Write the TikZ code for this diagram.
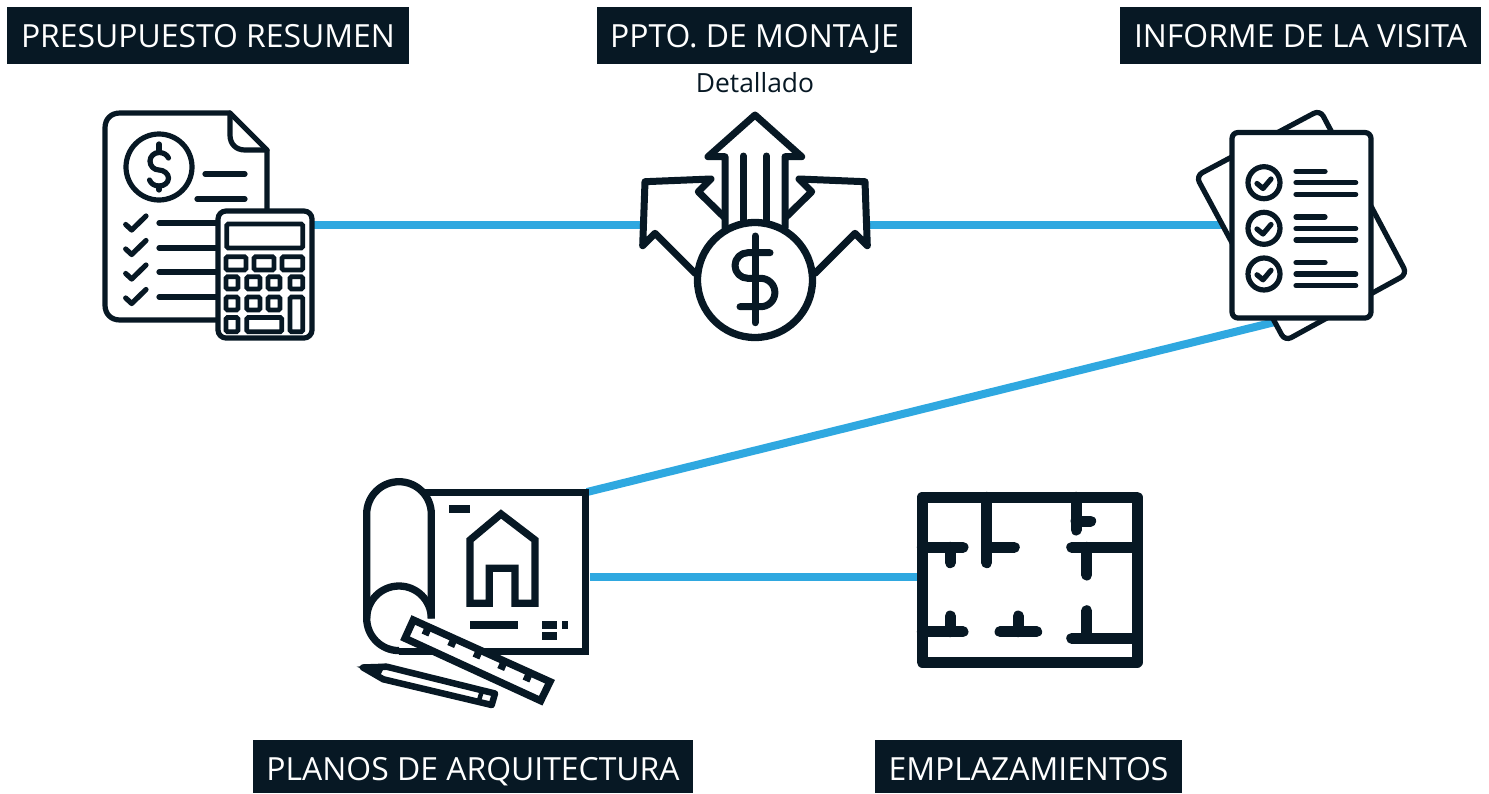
\documentclass[tikz,border=0pt]{standalone}
\usepackage{fontspec}
\setmainfont{Open Sans}
\definecolor{ink}{HTML}{071824}
\definecolor{wire}{HTML}{2FA8E0}
\tikzset{
  x=1pt,y=-1pt,
  tag/.style={fill=ink,text=white,inner sep=0pt,font=\fontsize{31.9}{38}\selectfont,text height=24pt,text depth=1pt},
  low tag/.style={tag,text height=28.5pt,text depth=0pt},
  iconbox/.style={inner sep=0pt,outer sep=0pt,draw=none},
  wireline/.style={draw=wire,line width=7.5pt},
  thin ink/.style={draw=ink,line width=5.2pt,line cap=round,line join=round},
  mid ink/.style={draw=ink,line width=7pt,line cap=round,line join=round},
  sharp ink/.style={draw=ink,line width=7.3pt,line cap=butt,line join=miter},
  wall/.style={draw=ink,line width=11pt,line cap=round},
}
\begin{document}
\begin{tikzpicture}
\useasboundingbox (0,0) rectangle (1489,793);
\fill[white] (0,0) rectangle (1489,793);
% labels
\node[tag,minimum width=402pt,minimum height=57pt] (t1) at (208,35.5) {PRESUPUESTO RESUMEN};
\node[tag,minimum width=315pt,minimum height=57pt] (t2) at (754.5,35.5) {PPTO. DE MONTAJE};
\node[tag,minimum width=361pt,minimum height=57pt] (t3) at (1300.5,35.5) {INFORME DE LA VISITA};
\node[low tag,minimum width=440pt,minimum height=53pt] (t4) at (473,766.5) {PLANOS DE ARQUITECTURA};
\node[low tag,minimum width=307pt,minimum height=53pt] (t5) at (1028.5,766.5) {EMPLAZAMIENTOS};
\node[inner sep=0pt,text=ink,font=\fontsize{26.4}{30}\selectfont] (sub) at (755,83) {Detallado};
% icon frames (invisible), connectors end on them
\node[iconbox,minimum width=210pt,minimum height=230pt] (calc) at (208,225) {};
\node[iconbox,minimum width=230pt,minimum height=230pt] (ppto) at (755,225) {};
\node[iconbox,minimum width=180pt,minimum height=230pt] (inf) at (1315,225) {};
\node[iconbox,minimum width=227pt,minimum height=194pt] (plan) at (476.5,577) {};
\node[iconbox,minimum width=220pt,minimum height=170pt] (emp) at (1028,577) {};
\coordinate (infS) at (1275,322);
\coordinate (planN) at (587,492);
% connectors
\draw[wireline] (calc.east) -- (ppto.west);
\draw[wireline] (ppto.east) -- (inf.west);
\draw[wireline,line width=8pt] (infS) -- (planN);
\draw[wireline] (plan.east) -- (emp.west);
% ---- icon 1: budget document + calculator
\begin{scope}[thin ink]
\draw[fill=white] (230,113) -- (267,150) -- (267,215) -- (267,320) -- (120,320)
  .. controls (111,320) and (105,314) .. (105,305) -- (105,128)
  .. controls (105,119) and (111,113) .. (120,113) -- cycle;
\draw (230,113) -- (230,135) .. controls (230,144) and (236,150) .. (245,150) -- (267,150);
\draw (159,167) circle (33);
\draw (205,174) -- (245,174);
\draw (197,199) -- (245,199);
\draw (159,223) -- (220,223);
\draw (159,248) -- (220,248);
\draw (159,272) -- (220,272);
\draw (159,297) -- (220,297);
\draw (125.7,224.5) -- (131.7,230) -- (146,216);
\draw (125.7,249) -- (131.7,254.5) -- (146,240.5);
\draw (125.7,273.5) -- (131.7,279) -- (146,265);
\draw (125.7,298) -- (131.7,303.5) -- (146,289.5);
\draw (159,144) -- (159,152);
\draw (159,186) -- (159,190);
\draw (168.5,158) .. controls (167,154.5) and (163,152.5) .. (159,152.5)
  .. controls (154,152.5) and (150,156.5) .. (150,161)
  .. controls (150,166) and (154,170) .. (159,170)
  .. controls (164,170) and (168.5,174) .. (168.5,178)
  .. controls (168.5,183) and (164,186) .. (159,186)
  .. controls (155,186) and (151,184) .. (149.5,180);
\draw[fill=white,rounded corners=8pt] (218,211) rectangle (312,338);
\end{scope}
\begin{scope}[draw=ink,line width=4.8pt,rounded corners=1.5pt]
\draw (226.7,224) rectangle (302.7,248);
\draw (226,256.7) rectangle (246,270);
\draw (254,256.7) rectangle (274,270);
\draw (282,256.7) rectangle (302.7,270);
\draw (226,276.7) rectangle (238,289);
\draw (246.7,276.7) rectangle (260,289);
\draw (268,276.7) rectangle (280,289);
\draw (290,276.7) rectangle (302.7,289);
\draw (226,297) rectangle (238,310);
\draw (246.7,297) rectangle (260,310);
\draw (268,297) rectangle (280,310);
\draw (290,297) rectangle (302.7,331.7);
\draw (226,317.5) rectangle (238,331.7);
\draw (246.7,317.5) rectangle (281.7,331.7);
\end{scope}
% ---- icon 2: arrows + dollar
\begin{scope}[mid ink]
\draw[fill=white] (695,273.3) -- (655,233.3) -- (642.7,245.7) -- (645,181.7) -- (711,179) -- (698.3,191.7) -- (725,218);
\draw[fill=white] (815,273.3) -- (855,233.3) -- (867.3,245.7) -- (865,181.7) -- (799,179) -- (811.7,191.7) -- (785,218);
\draw[fill=white] (725,228) -- (725,156.7) -- (708,156.7) -- (755,115) -- (801.7,156.7) -- (785,156.7) -- (785,228);
\draw (743.3,156) -- (743.3,225);
\draw (766.5,156) -- (766.5,225);
\draw[fill=white,line width=7.3pt] (755,280) circle (57.5);
\draw (755,236) -- (755,322.7);
\draw (770,252.7) -- (747.8,252.7) arc[start angle=270,end angle=90,radius=12.8] -- (760.7,278.3)
  arc[start angle=-90,end angle=90,radius=14.2] -- (740,306.7);
\end{scope}
% ---- icon 3: checklist
\begin{scope}[thin ink]
\draw[fill=white,rounded corners=7pt] (1196,176) -- (1320,110) -- (1407,274) -- (1285,341) -- cycle;
\draw[fill=white,rounded corners=6pt] (1232,132.5) rectangle (1371,318);
\draw (1264,182.7) circle (16);
\draw (1264,228.3) circle (16);
\draw (1264,274) circle (16);
\draw (1257,183.5) -- (1263,188.5) -- (1271,179);
\draw (1257,229) -- (1263,234) -- (1271,224.5);
\draw (1257,274.8) -- (1263,279.8) -- (1271,270.3);
\draw (1296,171.3) -- (1325,171.3);
\draw (1296,182.7) -- (1355.7,182.7);
\draw (1296,194.3) -- (1355.7,194.3);
\draw (1296,217) -- (1325,217);
\draw (1296,228.7) -- (1355.7,228.7);
\draw (1296,240) -- (1355.7,240);
\draw (1296,262.7) -- (1325,262.7);
\draw (1296,274) -- (1355.7,274);
\draw (1296,285.7) -- (1355.7,285.7);
\end{scope}
% ---- icon 4: blueprint
\begin{scope}[sharp ink]
\draw (423,492.7) -- (585.7,492.7) -- (585.7,651.7) -- (399,651.7);
\draw (399,650.6) arc[start angle=90,end angle=180,radius=32.3] -- (366.7,514)
  arc[start angle=180,end angle=360,radius=32.3] -- (431.3,618.5);
\draw (366.7,618.3) arc[start angle=180,end angle=360,radius=32.3];
\draw (470,603.3) -- (470,540) -- (501,514) -- (535,540) -- (535,603.3) -- (515,603.3)
  -- (515,568.3) -- (489.3,568.3) -- (489.3,603.3) -- cycle;
\fill[ink] (449,505) rectangle (470,513.3);
\fill[ink] (470,621) rectangle (517.7,629);
\fill[ink] (542,621) rectangle (557,629);
\fill[ink] (562,621) rectangle (568,629);
\fill[ink] (542,632.3) rectangle (557,640);
\draw[fill=white] (413.3,620) -- (550,681.7) -- (540.7,700.7) -- (405,638.3) -- cycle;
\draw (428.3,627.5) -- (425,635);
\draw (454,639) -- (450.7,646.5);
\draw (479.3,650.5) -- (476,658);
\draw (504,662) -- (500.7,669.5);
\draw (529.3,673.5) -- (526,681);
\draw[line width=6.5pt,line join=round,fill=white] (386.7,666.7) -- (495,693.5) -- (491.7,705) -- (383.3,679.3) -- (363,667.5) -- cycle;
\fill[ink] (356.7,666.7) -- (386,663.5) -- (380,676) -- cycle;
\draw[line width=4.5pt] (481.7,691.7) -- (478.5,702);
\end{scope}
% ---- icon 5: floor plan
\draw[draw=ink,line width=11pt,line join=round] (922.3,497.3) rectangle (1137,662);
\begin{scope}[wall]
\draw (922.3,547.3) -- (963,547.3);
\draw (950.3,547.3) -- (950.3,562.7);
\draw (986.7,497.3) -- (986.7,562.7);
\draw (986.7,547.3) -- (1014.3,547.3);
\draw (1076,497.3) -- (1076,530);
\draw (1076,521) -- (1090.7,521);
\draw (1071.7,547.3) -- (1137,547.3);
\draw (1086.7,547.3) -- (1086.7,575);
\draw (950.3,616) -- (950.3,631.7);
\draw (922.3,631.7) -- (963,631.7);
\draw (1000,631.7) -- (1036.7,631.7);
\draw (1018.3,616) -- (1018.3,631.7);
\draw (1086.7,610.7) -- (1086.7,638.3);
\draw (1071.7,638.3) -- (1137,638.3);
\end{scope}
\end{tikzpicture}
\end{document}
